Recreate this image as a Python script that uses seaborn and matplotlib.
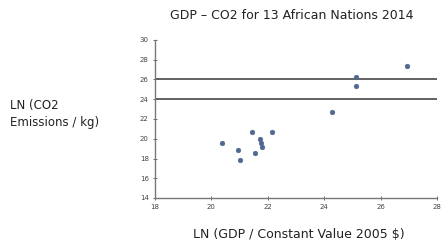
import matplotlib
matplotlib.use("Agg")
import matplotlib.pyplot as plt
import seaborn as sns
import pandas as pd

# Data
ln_gdp = [20.39, 20.94, 21.00, 21.43, 21.53, 21.71, 21.75, 21.78, 22.15, 24.29, 25.14, 25.14, 26.92]
ln_co2 = [19.60, 18.86, 17.85, 20.71, 18.59, 19.97, 19.57, 19.17, 20.71, 22.74, 26.22, 25.37, 27.40]
ref_lines = [24, 26]
x_ticks = [18, 20, 22, 24, 26, 28]
y_ticks = [14, 16, 18, 20, 22, 24, 26, 28, 30]

title = "GDP \u2013 CO2 for 13 African Nations 2014"
x_label = "LN (GDP / Constant Value 2005 $)"
y_label = "LN (CO2\nEmissions / kg)"

sns.set_theme(style="white")
plt.rcParams['font.family'] = ['DejaVu Sans']

df = pd.DataFrame({"gdp": ln_gdp, "co2": ln_co2})

fig = plt.figure(figsize=(4.41, 2.43), dpi=100)
ax = fig.add_axes([155/441, 1-198/243, (437-155)/441, (198-40)/243])

for y in ref_lines:
    ax.axhline(y, color="#555555", lw=1.3, zorder=1)

sns.scatterplot(data=df, x="gdp", y="co2", ax=ax, color="#50688f",
                marker="o", s=12, edgecolor="#50688f", linewidth=0.3, zorder=3)

ax.set_xlim(x_ticks[0], x_ticks[-1])
ax.set_ylim(y_ticks[0], y_ticks[-1])
ax.set_xticks(x_ticks)
ax.set_yticks(y_ticks)
ax.tick_params(axis="both", labelsize=5, colors="#555555", direction="inout",
               length=3, width=0.6, pad=3, labelcolor="#444444")
ax.tick_params(axis="both", which="both", bottom=True, left=True)
for s in ["top", "right"]:
    ax.spines[s].set_visible(False)
for s in ["left", "bottom"]:
    ax.spines[s].set_color("#777777")
    ax.spines[s].set_linewidth(1.0)
ax.set_xlabel("")
ax.set_ylabel("")

fig.text(292/441, 1-15/243, title, ha="center", va="center", fontsize=9, color="#222222")
fig.text(299/441, 1-234/243, x_label, ha="center", va="center", fontsize=9, color="#222222")
fig.text(10/441, 1-114/243, y_label, ha="left", va="center", fontsize=8.5, color="#222222",
         linespacing=1.35)

fig.savefig("out.png", dpi=100, facecolor="white")
